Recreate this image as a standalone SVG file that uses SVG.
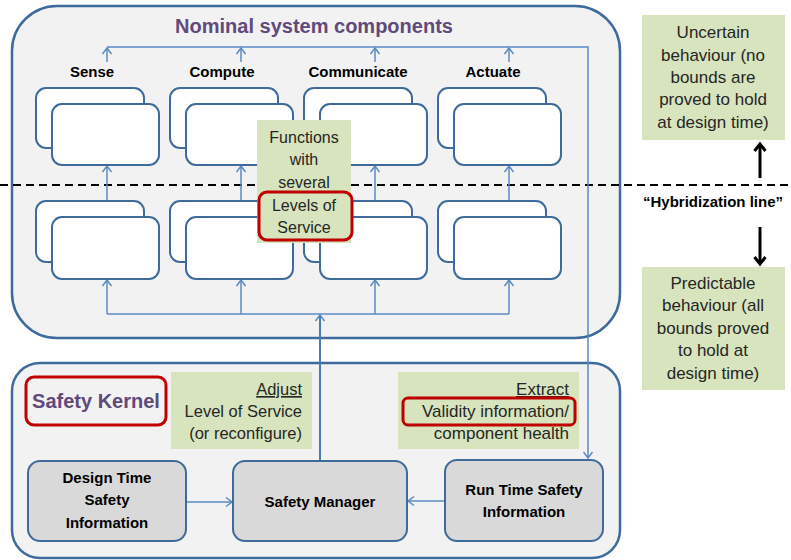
<svg xmlns="http://www.w3.org/2000/svg" width="791" height="560" viewBox="0 0 791 560">
  <style>
    .container { fill: #f2f2f2; stroke: #3e6b9c; stroke-width: 2.5; }
    .fn { fill: #ffffff; stroke: #3e6b9c; stroke-width: 2; }
    .sk { fill: #d9d9d9; stroke: #3e6b9c; stroke-width: 2; }
    .note { fill: #d7e4bd; }
    .hl { fill: none; stroke: #c00000; stroke-width: 3; }
    .wire { fill: none; stroke: #5b8ac6; stroke-width: 1.5; }
    .wire2 { fill: none; stroke: #4a7bb7; stroke-width: 2; }
    .blk { fill: none; stroke: #000000; stroke-width: 3; }
    text { font-family: "Liberation Sans", Arial, sans-serif; }
    .title { font-size: 20px; font-weight: bold; fill: #604a7b; }
    .col { font-size: 15px; font-weight: bold; fill: #000000; text-anchor: middle; }
    .ntext { font-size: 16px; fill: #262626; text-anchor: middle; }
    .rtext { font-size: 17px; fill: #262626; text-anchor: middle; }
    .atext { font-size: 16.5px; fill: #262626; text-anchor: end; }
    .etext { font-size: 17px; fill: #262626; text-anchor: end; }
    .btext { font-size: 15px; font-weight: bold; fill: #000000; text-anchor: middle; }
  </style>
  <defs>
    <marker id="arr" markerUnits="userSpaceOnUse" markerWidth="12" markerHeight="12" viewBox="-8 -6 10 12" refX="0" refY="0" orient="auto">
      <path d="M-6,-4.5 L0,0 L-6,4.5" fill="none" stroke="#5b8ac6" stroke-width="1.5"/>
    </marker>
    <marker id="arrB" markerUnits="userSpaceOnUse" markerWidth="16" markerHeight="16" viewBox="-10 -8 12 16" refX="0" refY="0" orient="auto">
      <path d="M-7,-5.5 L0,0 L-7,5.5" fill="none" stroke="#000000" stroke-width="3"/>
    </marker>
  </defs>

  <!-- containers -->
  <g id="nominal">
    <rect class="container" x="12" y="6" width="608" height="332" rx="45"/>
    <text class="title" x="314" y="33" text-anchor="middle">Nominal system components</text>
  </g>
  <g id="kernel">
    <rect class="container" x="12" y="363" width="608" height="195" rx="28"/>
  </g>

  <!-- hybridization line -->
  <line x1="0" y1="185" x2="789" y2="185" stroke="#000" stroke-width="2" stroke-dasharray="8 5"/>

  <!-- connectors -->
  <g id="connectors">
    <!-- collection bus at the top, feeding run time safety information -->
    <polyline class="wire" points="107,47 588,47 588,458" marker-end="url(#arr)"/>
    <line class="wire" x1="107" y1="62" x2="107" y2="48" marker-end="url(#arr)"/>
    <line class="wire" x1="241" y1="62" x2="241" y2="48" marker-end="url(#arr)"/>
    <line class="wire" x1="375" y1="62" x2="375" y2="48" marker-end="url(#arr)"/>
    <line class="wire" x1="509" y1="62" x2="509" y2="48" marker-end="url(#arr)"/>
    <!-- lower level feeds upper level -->
    <line class="wire" x1="107" y1="201" x2="107" y2="166" marker-end="url(#arr)"/>
    <line class="wire" x1="241" y1="201" x2="241" y2="166" marker-end="url(#arr)"/>
    <line class="wire" x1="375" y1="201" x2="375" y2="166" marker-end="url(#arr)"/>
    <line class="wire" x1="509" y1="201" x2="509" y2="166" marker-end="url(#arr)"/>
    <!-- reconfiguration bus -->
    <line class="wire" x1="107" y1="314" x2="509" y2="314"/>
    <line class="wire" x1="107" y1="314" x2="107" y2="280" marker-end="url(#arr)"/>
    <line class="wire" x1="241" y1="314" x2="241" y2="280" marker-end="url(#arr)"/>
    <line class="wire" x1="375" y1="314" x2="375" y2="280" marker-end="url(#arr)"/>
    <line class="wire" x1="509" y1="314" x2="509" y2="280" marker-end="url(#arr)"/>
    <line class="wire2" x1="320" y1="461" x2="320" y2="315" marker-end="url(#arr)"/>
    <!-- safety information into the manager -->
    <line class="wire" x1="186" y1="502" x2="232" y2="502" marker-end="url(#arr)"/>
    <line class="wire" x1="445" y1="501" x2="408" y2="501" marker-end="url(#arr)"/>
    <!-- behaviour arrows -->
    <line class="blk" x1="760" y1="178" x2="760" y2="144" marker-end="url(#arrB)"/>
    <line class="blk" x1="760" y1="227" x2="760" y2="264" marker-end="url(#arrB)"/>
  </g>

  <!-- functional components -->
  <g id="sense">
    <text class="col" x="92" y="77">Sense</text>
    <rect class="fn" x="36" y="88" width="108" height="60" rx="10"/>
    <rect class="fn" x="52" y="104" width="107" height="61" rx="10"/>
    <rect class="fn" x="36" y="201" width="108" height="61" rx="10"/>
    <rect class="fn" x="52" y="217" width="107" height="62" rx="10"/>
  </g>
  <g id="compute">
    <text class="col" x="222" y="77">Compute</text>
    <rect class="fn" x="170" y="88" width="108" height="60" rx="10"/>
    <rect class="fn" x="186" y="104" width="107" height="61" rx="10"/>
    <rect class="fn" x="170" y="201" width="108" height="61" rx="10"/>
    <rect class="fn" x="186" y="217" width="107" height="62" rx="10"/>
  </g>
  <g id="communicate">
    <text class="col" x="358" y="77">Communicate</text>
    <rect class="fn" x="304" y="88" width="108" height="60" rx="10"/>
    <rect class="fn" x="320" y="104" width="107" height="61" rx="10"/>
    <rect class="fn" x="304" y="201" width="108" height="61" rx="10"/>
    <rect class="fn" x="320" y="217" width="107" height="62" rx="10"/>
  </g>
  <g id="actuate">
    <text class="col" x="493" y="77">Actuate</text>
    <rect class="fn" x="438" y="88" width="108" height="60" rx="10"/>
    <rect class="fn" x="454" y="104" width="107" height="61" rx="10"/>
    <rect class="fn" x="438" y="201" width="108" height="61" rx="10"/>
    <rect class="fn" x="454" y="217" width="107" height="62" rx="10"/>
  </g>

  <!-- annotations -->
  <g id="levels-note">
    <rect class="note" x="257" y="120" width="94" height="123"/>
    <text class="ntext" x="304" y="143">Functions</text>
    <text class="ntext" x="304" y="165">with</text>
    <text class="ntext" x="304" y="188">several</text>
    <text class="ntext" x="304" y="211">Levels of</text>
    <text class="ntext" x="304" y="233">Service</text>
    <rect class="hl" x="259" y="192" width="93" height="48" rx="8"/>
  </g>
  <g id="uncertain-note">
    <rect class="note" x="642" y="15" width="143" height="125"/>
    <text class="rtext" x="713" y="38">Uncertain</text>
    <text class="rtext" x="713" y="61">behaviour (no</text>
    <text class="rtext" x="713" y="83">bounds are</text>
    <text class="rtext" x="713" y="105">proved to hold</text>
    <text class="rtext" x="713" y="128">at design time)</text>
  </g>
  <g id="hybridization-label">
    <text x="713" y="207" text-anchor="middle" font-size="15" font-weight="bold" fill="#000">“Hybridization line”</text>
  </g>
  <g id="predictable-note">
    <rect class="note" x="642" y="267" width="143" height="123"/>
    <text class="rtext" x="713" y="289">Predictable</text>
    <text class="rtext" x="713" y="311">behaviour (all</text>
    <text class="rtext" x="713" y="334">bounds proved</text>
    <text class="rtext" x="713" y="356">to hold at</text>
    <text class="rtext" x="713" y="379">design time)</text>
  </g>

  <!-- safety kernel -->
  <g id="kernel-label">
    <rect class="hl" x="26" y="377" width="140" height="48" rx="8"/>
    <text x="96" y="408" text-anchor="middle" font-size="20" font-weight="bold" fill="#604a7b">Safety Kernel</text>
  </g>
  <g id="adjust-note">
    <rect class="note" x="171" y="372" width="141" height="77"/>
    <text class="atext" x="302" y="395" text-decoration="underline">Adjust</text>
    <text class="atext" x="302" y="417">Level of Service</text>
    <text class="atext" x="302" y="439">(or reconfigure)</text>
  </g>
  <g id="extract-note">
    <rect class="note" x="398" y="372" width="181" height="77"/>
    <text class="etext" x="569" y="395" text-decoration="underline">Extract</text>
    <text class="etext" x="569" y="417">Validity information/</text>
    <text class="etext" x="569" y="439">component health</text>
    <rect class="hl" x="403" y="398" width="172" height="27" rx="5"/>
  </g>
  <g id="design-time">
    <rect class="sk" x="28" y="461" width="158" height="80" rx="12"/>
    <text class="btext" x="107" y="483">Design Time</text>
    <text class="btext" x="107" y="505">Safety</text>
    <text class="btext" x="107" y="528">Information</text>
  </g>
  <g id="safety-manager">
    <rect class="sk" x="233" y="461" width="174" height="80" rx="12"/>
    <text class="btext" x="320" y="507">Safety Manager</text>
  </g>
  <g id="run-time">
    <rect class="sk" x="445" y="460" width="158" height="81" rx="12"/>
    <text class="btext" x="524" y="495">Run Time Safety</text>
    <text class="btext" x="524" y="517">Information</text>
  </g>
</svg>
